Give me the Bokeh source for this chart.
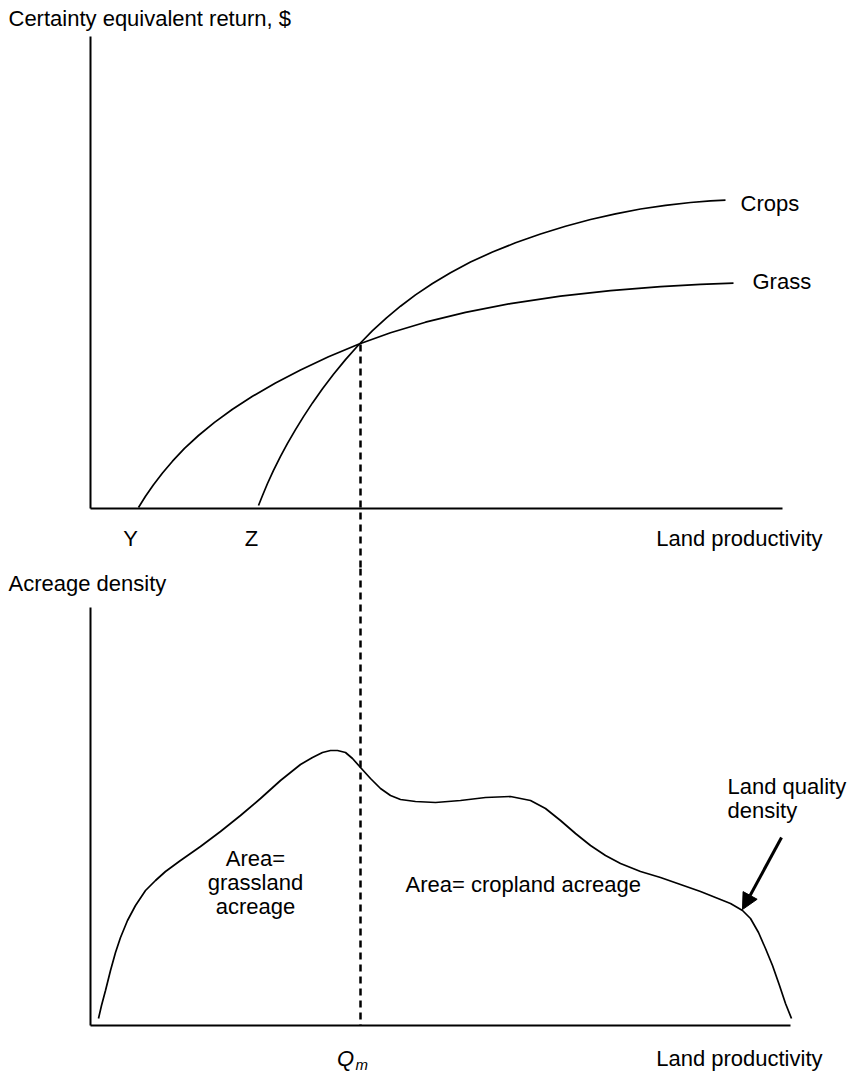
from bokeh.plotting import figure
from bokeh.layouts import column
from bokeh.models import Range1d, Arrow, NormalHead
from bokeh.core.properties import value
from bokeh.embed import file_html
from bokeh.resources import INLINE

# ---------------- data (arbitrary units; origin at the axes' corner) -------------
grass_prod = [48, 55, 63, 72, 82, 94, 108, 124, 142, 162, 185, 210, 238, 268, 300, 335, 375, 420, 470, 520,
              570, 610, 643]
grass_ret = [1, 12.2, 23.8, 35.5, 47.3, 60.1, 73, 86.1, 99.2, 112.2, 125.5, 138.5, 151.7, 164.3, 175.8,
             186.3, 196.1, 204.9, 212.4, 217.9, 221.9, 224.1, 225.3]

crops_prod = [168, 172, 177, 183, 190, 197, 205, 213, 222, 232, 243, 255, 268, 282, 296, 310, 325, 342, 360,
              380, 402, 425, 450, 475, 500, 525, 550, 575, 600, 620, 635]
crops_ret = [3, 13, 25, 38.2, 52.2, 65.1, 78.9, 91.9, 105.6, 119.8, 134.3, 148.9, 163.5, 177.8, 190.7, 202.3,
             213.6, 225, 235.8, 246.4, 256.5, 265.7, 274.5, 282.2, 289, 294.7, 299.5, 303.2, 306, 307.6, 308.3]

dens_prod = [8, 11, 15, 20, 25, 30, 37, 45, 55, 65, 75, 90, 110, 130, 150, 170, 190, 210, 222, 232, 240, 247,
             255, 262, 270, 280, 290, 300, 310, 325, 345, 370, 395, 420, 440, 455, 470, 485, 500, 515, 530,
             550, 570, 590, 610, 625, 640, 652, 660, 668, 675, 682, 689, 695, 701]
dens_val = [7, 20, 35, 55, 73, 88, 105, 120, 135, 145, 154, 165, 179, 194, 210, 227, 245, 261, 268, 273, 275,
            275, 273, 267, 258, 247, 237, 230, 226, 224, 223, 225, 228, 229, 225, 217, 205, 192, 180, 170, 162,
            154, 148, 141, 134, 128, 122, 115, 107, 93, 77, 60, 40, 22, 7]

q_m = 270          # productivity where crops overtake grass
q_m_return = 164   # return at the crossing
y_point, z_point = 40, 161
upper_x_len, upper_y_len = 692, 472
lower_x_len, lower_y_len = 700, 418

FONT = value("Liberation Sans")
FS = "22px"
W = 866


def base(h, y0, y1):
    p = figure(width=W, height=h, x_range=Range1d(-90, 776), y_range=Range1d(y0, y1),
               output_backend="svg", toolbar_location=None, min_border=0)
    p.axis.visible = False
    p.grid.visible = False
    p.outline_line_color = None
    p.background_fill_color = "white"
    p.border_fill_color = "white"
    return p


def label(p, x, y, t, align="left", size=FS, style="normal", baseline="middle"):
    p.text(x=[x], y=[y], text=[t], text_font=FONT, text_font_size=size, text_align=align,
           text_baseline=baseline, text_color="black", text_font_style=style)


# ---------------- upper panel -----------------------------------------------------
top = base(568, -60, 508)
top.line([0, 0], [0, upper_y_len], line_color="black", line_width=2)
top.line([0, upper_x_len], [0, 0], line_color="black", line_width=2)
top.line(grass_prod, grass_ret, line_color="black", line_width=1.7)
top.line(crops_prod, crops_ret, line_color="black", line_width=1.7)
top.line([q_m, q_m], [q_m_return, -60], line_color="black", line_width=2.5, line_dash="7 5")

label(top, -82, 490, "Certainty equivalent return, $")
label(top, 650, 305, "Crops")
label(top, 662, 227, "Grass")
label(top, y_point, -30, "Y", align="center")
label(top, z_point, -30, "Z", align="center")
label(top, 732, -30, "Land productivity", align="right")

# ---------------- lower panel -----------------------------------------------------
bot = base(504, -47, 457)
bot.line([0, 0], [0, lower_y_len], line_color="black", line_width=2)
bot.line([0, lower_x_len], [0, 0], line_color="black", line_width=2)
bot.line(dens_prod, dens_val, line_color="black", line_width=1.7)
bot.line([q_m, q_m], [457, 0], line_color="black", line_width=2.5, line_dash="7 5")

label(bot, -82, 442, "Acreage density")
label(bot, 165, 167, "Area=", align="center")
label(bot, 165, 143, "grassland", align="center")
label(bot, 165, 119, "acreage", align="center")
label(bot, 315, 141, "Area= cropland acreage")
label(bot, 637, 239, "Land quality")
label(bot, 637, 215, "density")
label(bot, 255, -33, "Q", align="center", style="italic")
label(bot, 265, -39, "m", size="15px", style="italic")
label(bot, 732, -33, "Land productivity", align="right")

bot.add_layout(Arrow(end=NormalHead(size=16, fill_color="black", line_color="black"),
                     x_start=691, y_start=188, x_end=652, y_end=116,
                     line_color="black", line_width=3))

layout = column(top, bot, spacing=0)
open("out.html", "w").write(file_html(layout, INLINE))
